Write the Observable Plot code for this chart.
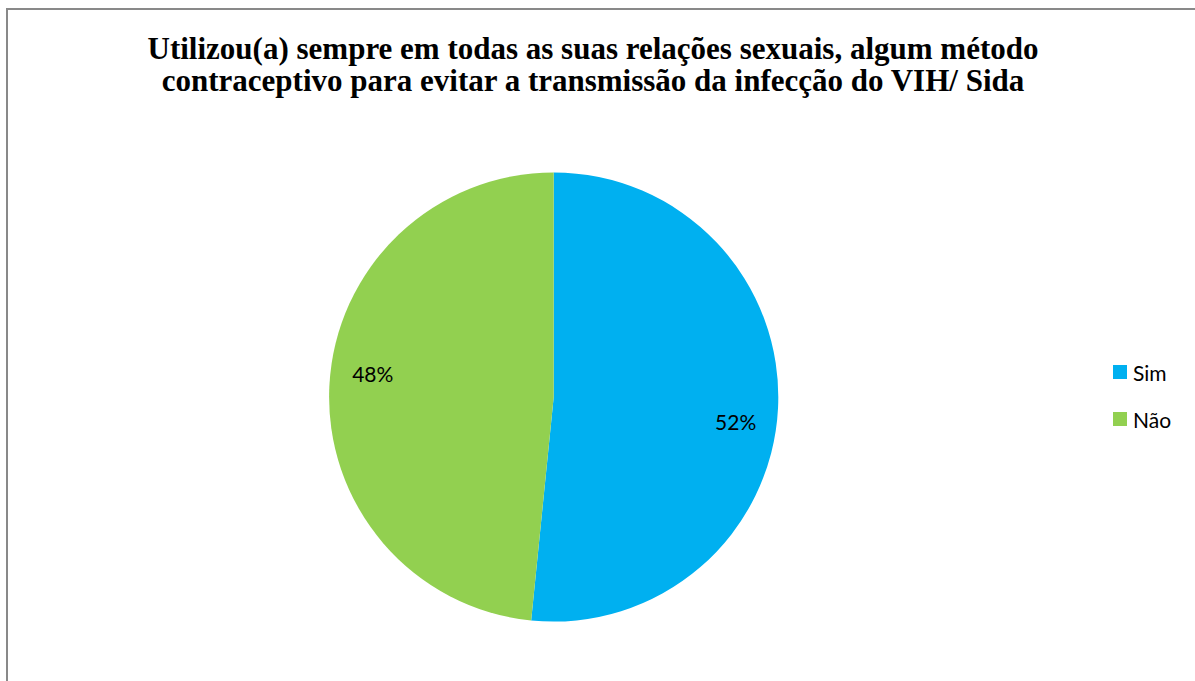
<!DOCTYPE html>
<html>
<head>
<meta charset="utf-8">
<script src="https://cdn.jsdelivr.net/npm/d3@7"></script>
<script src="https://cdn.jsdelivr.net/npm/@observablehq/plot@0.6"></script>
<style>
  html, body { margin: 0; padding: 0; background: #fff; }
  #chart { position: relative; width: 1195px; height: 681px; overflow: hidden; background: #fff; }
  #frame { position: absolute; left: 6px; top: 8px; width: 1400px; height: 900px; border: 2px solid #898989; box-sizing: border-box; }
  #title { position: absolute; left: 0; top: 33px; width: 1186px; text-align: center;
           font-family: "Liberation Serif", "Times New Roman", serif; font-weight: bold;
           font-size: 31px; line-height: 32px; color: #000; }
  #plot { position: absolute; left: 0; top: 0; }
  #legend { position: absolute; left: 1113px; top: 360px; font-family: Lato, "Open Sans", sans-serif; font-size: 21px; color: #000; }
  .item { display: flex; align-items: center; height: 24px; margin-bottom: 23px; }
  .sw { width: 14px; height: 14px; margin-right: 6px; }
</style>
</head>
<body>
<div id="chart">
  <div id="frame"></div>
  <div id="plot"></div>
  <div id="title">Utilizou(a) sempre em todas as suas relações sexuais, algum método<br>contraceptivo para evitar a transmissão da infecção do VIH/ Sida</div>
  <div id="legend"></div>
</div>
<script>
// ---- data ----
const categories = ["Sim", "Não"];
const values = [51.6, 48.4];
const labels = ["52%", "48%"];
const colors = ["#00B0F0", "#92D050"];

// ---- layout/style constants ----
const cx = 553.7, cy = 397, R = 224.6;
const labelRadius = 0.815;   // fraction of pie radius
const labelTurn = 4.7;       // degrees

const data = categories.map((c, i) => ({category: c, value: values[i], label: labels[i]}));
const arcs = d3.pie().sort(null).value(d => d.value)(data);
const labelData = arcs.map(a => {
  const mid = (a.startAngle + a.endAngle) / 2 + labelTurn * Math.PI / 180;
  return {category: a.data.category, label: a.data.label,
          lx: labelRadius * Math.sin(mid), ly: labelRadius * Math.cos(mid)};
});

function pieMark(index, scales) {
  const x0 = scales.x(0), y0 = scales.y(0), r = scales.x(1) - x0;
  const color = scales.color;
  const g = d3.create("svg:g").attr("transform", `translate(${x0},${y0})`);
  g.selectAll("path").data(arcs).join("path")
    .attr("d", d3.arc().innerRadius(0).outerRadius(r))
    .attr("fill", d => color(d.data.category));
  return g.node();
}

const chart = Plot.plot({
  width: 1195,
  height: 681,
  margin: 0,
  x: {domain: [-1, 1], range: [cx - R, cx + R], axis: null},
  y: {domain: [-1, 1], range: [cy + R, cy - R], axis: null},
  color: {domain: categories, range: colors},
  style: {background: "transparent"},
  marks: [
    pieMark,
    Plot.text(labelData, {x: "lx", y: "ly", text: "label", fontSize: 21, dy: 2,
      fontFamily: "Lato, 'Open Sans', sans-serif", fill: "#000", textAnchor: "middle", lineAnchor: "middle"})
  ]
});
document.getElementById("plot").appendChild(chart);

const colorScale = chart.scale("color");
const legend = d3.select("#legend");
categories.forEach((c, i) => {
  const item = legend.append("div").attr("class", "item");
  item.append("div").attr("class", "sw").style("background", colorScale.range[colorScale.domain.indexOf(c)]);
  item.append("span").text(c);
});
</script>
</body>
</html>
